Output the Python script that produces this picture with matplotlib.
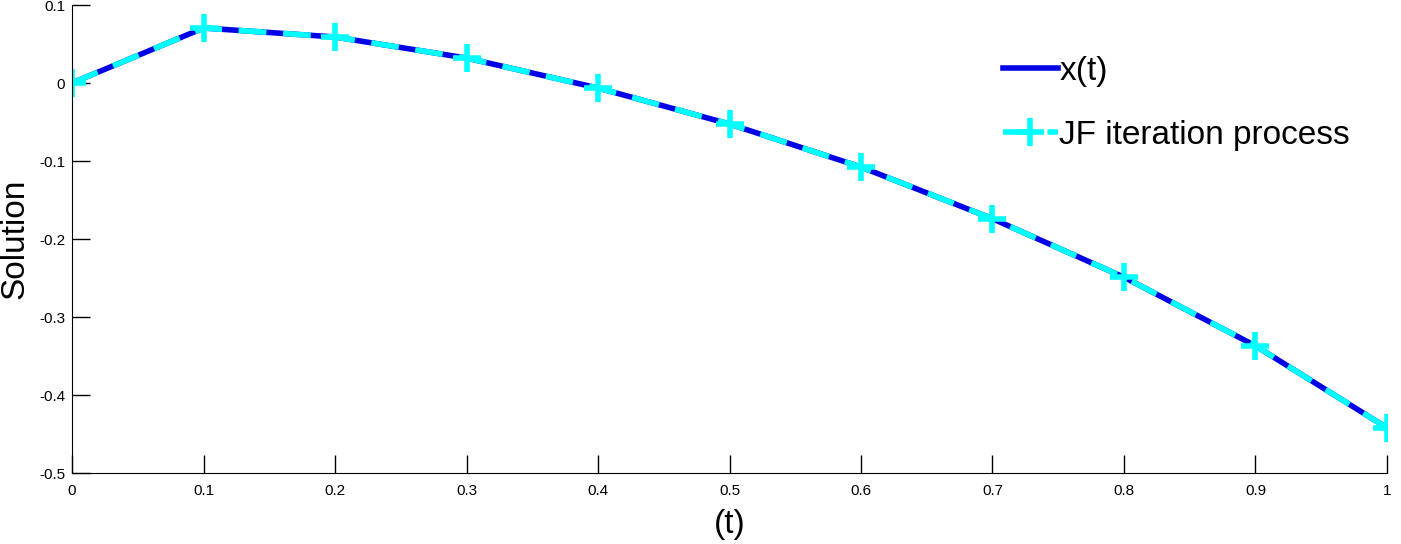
import matplotlib
matplotlib.use("Agg")
import matplotlib.pyplot as plt

plt.rcParams['font.family'] = ['Liberation Sans', 'DejaVu Sans']

t = [0, 0.1, 0.2, 0.3, 0.4, 0.5, 0.6, 0.7, 0.8, 0.9, 1.0]
x_exact = [0, 0.0705, 0.059, 0.032, -0.0064, -0.0526, -0.1077, -0.174, -0.249, -0.337, -0.442]
x_jf = [0, 0.0705, 0.059, 0.032, -0.0064, -0.0526, -0.1077, -0.174, -0.249, -0.337, -0.442]

fig = plt.figure(figsize=(14.01, 5.44), dpi=100)
ax = fig.add_axes([0.0514, 0.1305, 0.9386, 0.8603])

ax.plot(t, x_exact, color='#0000e6', lw=4, label='x(t)')
ax.plot(t, x_jf, color='cyan', lw=4, ls=(0, (5, 3)), marker='+',
        markersize=20, markeredgewidth=4, label='JF iteration process')

ax.set_xlim(0, 1)
ax.set_ylim(-0.5, 0.1)
ax.set_xticks([0, 0.1, 0.2, 0.3, 0.4, 0.5, 0.6, 0.7, 0.8, 0.9, 1])
ax.set_xticklabels(['0', '0.1', '0.2', '0.3', '0.4', '0.5', '0.6', '0.7', '0.8', '0.9', '1'])
ax.set_yticks([-0.5, -0.4, -0.3, -0.2, -0.1, 0, 0.1])
ax.set_yticklabels(['-0.5', '-0.4', '-0.3', '-0.2', '-0.1', '0', '0.1'])
ax.tick_params(direction='in', length=13, width=1, labelsize=11)
ax.tick_params(axis='x', pad=8)
ax.tick_params(axis='y', pad=5)
ax.spines['top'].set_visible(False)
ax.spines['right'].set_visible(False)

ax.set_xlabel('(t)', fontsize=24, labelpad=8)
ax.set_ylabel('Solution', fontsize=24, labelpad=6)

ax.legend(loc='upper left', bbox_to_anchor=(0.685, 0.956), frameon=False,
          fontsize=24, handlelength=1.65, handletextpad=0.05, labelspacing=1.0)

fig.savefig('out.png', dpi=100)
